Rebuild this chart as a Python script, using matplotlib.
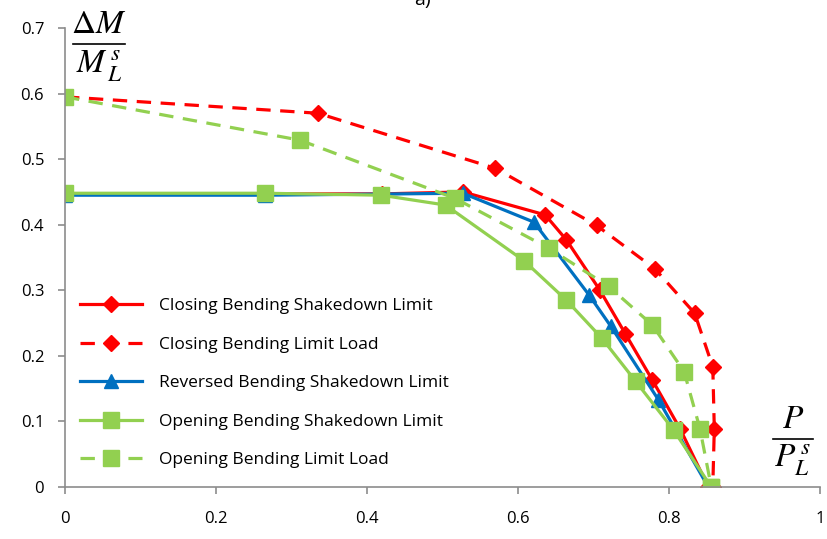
import numpy as np
import matplotlib
matplotlib.use("Agg")
import matplotlib.pyplot as plt
from matplotlib.lines import Line2D

# values
cs_x = [0, 0.265, 0.42, 0.527, 0.636, 0.664, 0.708, 0.742, 0.778, 0.815, 0.852]
cs_y = [0.447, 0.447, 0.447, 0.450, 0.415, 0.377, 0.301, 0.234, 0.163, 0.088, 0.0]

cl_x = [0, 0.335, 0.570, 0.704, 0.781, 0.834, 0.858, 0.860, 0.858]
cl_y = [0.595, 0.570, 0.486, 0.399, 0.333, 0.265, 0.183, 0.089, 0.0]

rs_x = [0, 0.265, 0.527, 0.621, 0.694, 0.723, 0.786, 0.852]
rs_y = [0.445, 0.445, 0.448, 0.404, 0.293, 0.245, 0.133, 0.0]

os_x = [0, 0.265, 0.419, 0.504, 0.608, 0.664, 0.711, 0.756, 0.806, 0.856]
os_y = [0.448, 0.448, 0.445, 0.430, 0.345, 0.285, 0.227, 0.161, 0.087, 0.0]

ol_x = [0, 0.311, 0.517, 0.641, 0.720, 0.778, 0.820, 0.841, 0.856]
ol_y = [0.595, 0.529, 0.440, 0.364, 0.306, 0.247, 0.176, 0.089, 0.0]

labels = ["Closing Bending Shakedown Limit",
          "Closing Bending Limit Load",
          "Reversed Bending Shakedown Limit",
          "Opening Bending Shakedown Limit",
          "Opening Bending Limit Load"]

red = "#FF0000"
blue = "#0070C0"
green = "#92D050"

plt.rcParams['font.family'] = ['Open Sans', 'DejaVu Sans']
plt.rcParams['mathtext.fontset'] = 'stix'

W, H = 828, 539
fig = plt.figure(figsize=(W/100, H/100), dpi=100)
ax = fig.add_axes([65/W, 52/H, 755/W, 459/H])

lw = 2.3
dash = (4.5, 3)
ax.plot(cs_x, cs_y, color=red, lw=lw, marker="D", ms=8.5, label=labels[0])
ax.plot(cl_x, cl_y, color=red, lw=lw, marker="D", ms=8.5, dashes=dash, label=labels[1])
ax.plot(rs_x, rs_y, color=blue, lw=lw, marker="^", ms=10, label=labels[2])
ax.plot(os_x, os_y, color=green, lw=lw, marker="s", ms=11, label=labels[3])
ax.plot(ol_x, ol_y, color=green, lw=lw, marker="s", ms=11, dashes=dash, label=labels[4])

ax.set_xlim(0, 1)
ax.set_ylim(0, 0.7)
ax.set_xticks([0, 0.2, 0.4, 0.6, 0.8, 1])
ax.set_xticklabels(["0", "0.2", "0.4", "0.6", "0.8", "1"])
ax.set_yticks(np.arange(0, 0.71, 0.1))
ax.set_yticklabels(["0", "0.1", "0.2", "0.3", "0.4", "0.5", "0.6", "0.7"])
for s in ["top", "right"]:
    ax.spines[s].set_visible(False)
for s in ["left", "bottom"]:
    ax.spines[s].set_color("#8c8c8c")
    ax.spines[s].set_linewidth(1.2)
ax.tick_params(colors="#8c8c8c", labelcolor="black", labelsize=12, length=5, width=1.2)
ax.tick_params(axis="x", pad=12)
ax.tick_params(axis="y", pad=10)

ax.legend(loc="lower left", bbox_to_anchor=(64/W, 55/H), bbox_transform=fig.transFigure,
          frameon=False, fontsize=12.5, handlelength=3.6, labelspacing=1.29, handletextpad=1.0)

# axis labels as stacked fractions
def frac(xc, y_bar, x0, x1, top, bottom, size=24):
    fig.text(xc/W, 1 - (y_bar - 3)/H, top, fontsize=size, ha="center", va="bottom")
    fig.text(xc/W, 1 - (y_bar + 4)/H, bottom, fontsize=size, ha="center", va="top")
    fig.add_artist(Line2D([x0/W, x1/W], [1 - y_bar/H, 1 - y_bar/H], color="black", lw=1.2))

frac(99, 44, 73, 125, r"$\Delta M$", r"$M_{\,L}^{\,s}$")
frac(793, 439, 773, 813, r"$P$", r"$P_{L}^{\,s}$")

fig.text(422/W, 1.0, "a)", fontsize=14, va="center", ha="center")

fig.savefig("out.png", dpi=100)
